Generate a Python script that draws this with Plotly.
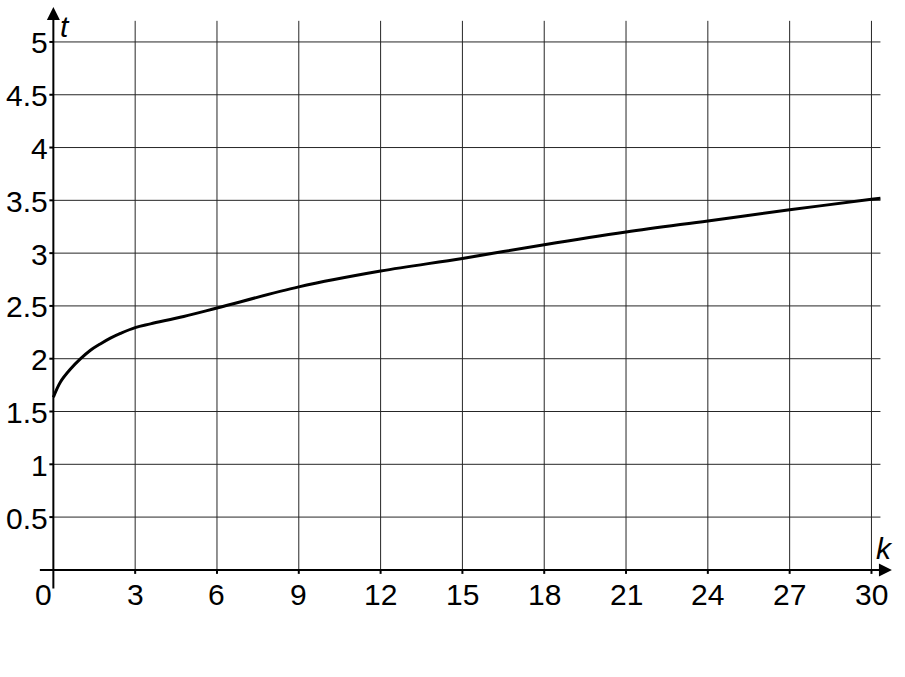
import plotly.graph_objects as go

# ---- data ----
k = [0, 0.26, 0.62, 1.0, 1.36, 1.72, 2.09, 2.46, 3.0, 3.56, 4.78, 6, 9, 12, 15, 18, 21, 24, 27, 30, 30.33]
t = [1.635, 1.78, 1.90, 2.0, 2.08, 2.14, 2.195, 2.24, 2.295, 2.33, 2.40, 2.48, 2.68, 2.83, 2.95,
     3.08, 3.20, 3.305, 3.41, 3.51, 3.52]

x_ticks = [3, 6, 9, 12, 15, 18, 21, 24, 27, 30]
x_tick_labels = ["3", "6", "9", "12", "15", "18", "21", "24", "27", "30"]
y_ticks = [0.5, 1, 1.5, 2, 2.5, 3, 3.5, 4, 4.5, 5]
y_tick_labels = ["0.5", "1", "1.5", "2", "2.5", "3", "3.5", "4", "4.5", "5"]

X_RANGE = [-0.6, 30.9]
Y_RANGE = [-0.2, 5.35]
GRID_X_END = 30.33
GRID_Y_END = 5.2

FONT = "Liberation Sans, Arial, sans-serif"
GRID_COLOR = "#262626"

fig = go.Figure()

fig.add_trace(go.Scatter(
    x=k, y=t, mode="lines",
    line=dict(color="black", width=3, shape="spline", smoothing=1.0),
    hoverinfo="skip", showlegend=False,
))

shapes = []
for yv in y_ticks:
    shapes.append(dict(type="line", xref="x", yref="y", x0=0, x1=GRID_X_END, y0=yv, y1=yv,
                       line=dict(color=GRID_COLOR, width=1), layer="below"))
    shapes.append(dict(type="line", xref="x", yref="y", xsizemode="pixel", xanchor=0,
                       x0=-4, x1=0, y0=yv, y1=yv, line=dict(color="black", width=2)))
for xv in x_ticks:
    shapes.append(dict(type="line", xref="x", yref="y", x0=xv, x1=xv, y0=0, y1=GRID_Y_END,
                       line=dict(color=GRID_COLOR, width=1), layer="below"))
    shapes.append(dict(type="line", xref="x", yref="y", ysizemode="pixel", yanchor=0,
                       x0=xv, x1=xv, y0=-4, y1=0, line=dict(color="black", width=2)))

annotations = []
annotations.append(dict(x=30.75, y=0, ax=-0.55, ay=0, xref="x", yref="y", axref="x", ayref="y",
                        showarrow=True, arrowhead=2, arrowsize=1.3, arrowwidth=2,
                        arrowcolor="black", text=""))
annotations.append(dict(x=0, y=5.33, ax=0, ay=-0.19, xref="x", yref="y", axref="x", ayref="y",
                        showarrow=True, arrowhead=2, arrowsize=1.3, arrowwidth=2,
                        arrowcolor="black", text=""))

for yv, lab in zip(y_ticks, y_tick_labels):
    annotations.append(dict(x=0, y=yv, xref="x", yref="y", text=lab, showarrow=False,
                            xanchor="right", yanchor="middle", xshift=-3, yshift=-1,
                            font=dict(family=FONT, size=30, color="black")))
for xv, lab in zip(x_ticks, x_tick_labels):
    annotations.append(dict(x=xv, y=0, xref="x", yref="y", text=lab, showarrow=False,
                            xanchor="center", yanchor="middle", yshift=-25,
                            font=dict(family=FONT, size=30, color="black")))
annotations.append(dict(x=0, y=0, xref="x", yref="y", text="0", showarrow=False,
                        xanchor="center", yanchor="middle", xshift=-10, yshift=-25,
                        font=dict(family=FONT, size=30, color="black")))
annotations.append(dict(x=0.42, y=5.15, xref="x", yref="y", text="<i>t</i>", showarrow=False,
                        xanchor="center", yanchor="middle",
                        font=dict(family=FONT, size=30, color="black")))
annotations.append(dict(x=30.47, y=0.2, xref="x", yref="y", text="<i>k</i>", showarrow=False,
                        xanchor="center", yanchor="middle",
                        font=dict(family=FONT, size=30, color="black")))

fig.update_layout(
    width=905, height=677,
    margin=dict(l=37, r=9, t=5, b=86),
    paper_bgcolor="white", plot_bgcolor="white",
    xaxis=dict(range=X_RANGE, showgrid=False, zeroline=False, showticklabels=False,
               showline=False, ticks=""),
    yaxis=dict(range=Y_RANGE, showgrid=False, zeroline=False, showticklabels=False,
               showline=False, ticks=""),
    shapes=shapes,
    annotations=annotations,
    showlegend=False,
)

fig.write_html("out.html",
               config={"displayModeBar": False, "staticPlot": True},
               post_script="document.body.style.margin='0px';document.body.style.overflow='hidden';")
